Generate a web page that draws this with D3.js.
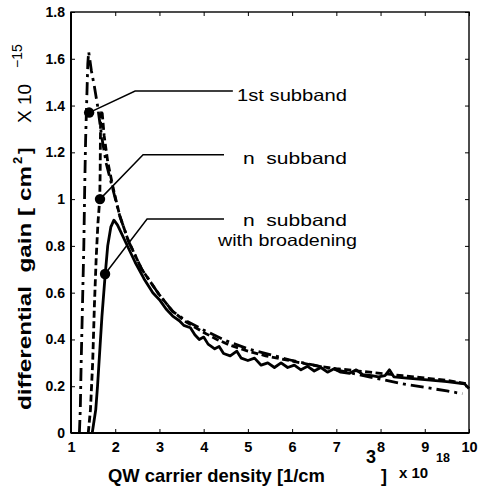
<!DOCTYPE html>
<html><head><meta charset="utf-8">
<script src="https://cdn.jsdelivr.net/npm/d3@7"></script>
<style>
html,body{margin:0;padding:0;background:#fff;}
svg{display:block;}
text{font-family:"Liberation Sans",Arial,Helvetica,sans-serif;fill:#000;white-space:pre;}
</style></head>
<body>
<script>
// ---- data (x in 1e18 /cm^3, y in 1e-15 cm^2) ----
const firstSubband = [
 [1.19,0],[1.21,0.1],[1.23,0.3],[1.26,0.55],[1.29,0.8],[1.31,1.05],[1.33,1.25],[1.36,1.45],[1.38,1.58],[1.40,1.63],
 [1.46,1.55],[1.53,1.48],[1.6,1.40],[1.7,1.26],[1.8,1.15],[1.95,1.04],[2.1,0.93],[2.3,0.82],[2.6,0.70],[3.0,0.59],
 [3.3,0.52],[3.6,0.48],[4.0,0.44],[4.5,0.395],[5.0,0.36],[5.5,0.335],[6.0,0.31],[6.5,0.29],[7.0,0.27],[7.5,0.25],
 [8.0,0.23],[8.5,0.21],[9.0,0.195],[9.5,0.18],[9.85,0.168]
];
const nSubband = [
 [1.39,0],[1.44,0.1],[1.49,0.3],[1.53,0.55],[1.57,0.75],[1.61,0.9],[1.65,1.0],[1.66,1.12],[1.665,1.25],[1.67,1.35],
 [1.70,1.38],[1.75,1.27],[1.83,1.16],[1.95,1.05],[2.1,0.93],[2.3,0.82],[2.6,0.70],[3.0,0.59],[3.3,0.52],[3.6,0.475],
 [4.0,0.43],[4.3,0.40],[4.6,0.375],[5.0,0.35],[5.4,0.33],[5.8,0.315],[6.2,0.30],[6.6,0.285],[7.0,0.275],[7.5,0.265],
 [8.0,0.255],[8.5,0.245],[9.0,0.235],[9.5,0.225],[9.95,0.21]
];
const broadened = [
 [1.48,0],[1.52,0.05],[1.56,0.1],[1.6,0.2],[1.65,0.35],[1.7,0.5],[1.77,0.67],[1.83,0.8],[1.9,0.88],[1.97,0.91],
 [2.05,0.89],[2.15,0.85],[2.3,0.79],[2.45,0.73],[2.65,0.66],[2.85,0.60],[3.0,0.57],[3.15,0.53],[3.3,0.50],[3.45,0.48],
 [3.55,0.46],[3.7,0.45],[3.8,0.42],[3.9,0.40],[4.0,0.41],[4.1,0.38],[4.25,0.36],[4.35,0.37],[4.45,0.34],[4.6,0.33],
 [4.75,0.35],[4.85,0.32],[5.0,0.31],[5.15,0.32],[5.3,0.29],[5.45,0.30],[5.6,0.28],[5.75,0.30],[5.9,0.28],[6.05,0.29],
 [6.2,0.27],[6.35,0.285],[6.5,0.265],[6.65,0.28],[6.8,0.26],[6.95,0.275],[7.1,0.26],[7.3,0.255],[7.45,0.27],[7.6,0.25],
 [7.8,0.245],[7.95,0.24],[8.1,0.245],[8.2,0.27],[8.3,0.24],[8.6,0.235],[9.0,0.228],[9.5,0.22],[9.9,0.21],[10,0.19]
];
const xTicks = [1,2,3,4,5,6,7,8,9,10];
const xTickLabels = ["1","2","3","4","5","6","7","8","9","10"];
const yTicks = [0,0.2,0.4,0.6,0.8,1,1.2,1.4,1.6,1.8];
const yTickLabels = ["0","0.2","0.4","0.6","0.8","1","1.2","1.4","1.6","1.8"];
// annotations: dot (data), elbow (data), end x (data)
const annLabels = [["1st subband"],["n  subband"],["n  subband","with broadening"]];
const annDots = [[1.41,1.37],[1.656,1.0],[1.77,0.68]];
const annElbows = [[2.45,1.462],[2.63,1.19],[2.72,0.915]];
const annEnds = [4.66,4.46,4.46];

// ---- layout ----
const W=478,H=489;
const L=71,R=469,T=12,B=433;
const svg=d3.select("body").append("svg").attr("width",W).attr("height",H);
const x=d3.scaleLinear().domain([1,10]).range([L,R]);
const y=d3.scaleLinear().domain([0,1.8]).range([B,T]);

// axes (inward ticks)
const ax=svg.append("g").attr("transform",`translate(0,${B})`)
  .call(d3.axisBottom(x).tickValues(xTicks).tickSize(-4).tickPadding(9).tickFormat((d,i)=>xTickLabels[i]));
const axT=svg.append("g").attr("transform",`translate(0,${T})`)
  .call(d3.axisTop(x).tickValues(xTicks).tickSize(-4).tickFormat(""));
const ay=svg.append("g").attr("transform",`translate(${L},0)`)
  .call(d3.axisLeft(y).tickValues(yTicks).tickSize(-4).tickPadding(8).tickFormat((d,i)=>yTickLabels[i]));
const ayR=svg.append("g").attr("transform",`translate(${R},0)`)
  .call(d3.axisRight(y).tickValues(yTicks).tickSize(-4).tickFormat(""));
[ax,axT,ay,ayR].forEach(g=>{g.select(".domain").remove();g.selectAll(".tick line").attr("stroke","#000").attr("stroke-width",1);});
ax.selectAll(".tick text").attr("font-size",14.5).attr("font-weight","bold").attr("font-family","Liberation Sans, Arial, sans-serif").attr("dy","0.72em");
ay.selectAll(".tick text").attr("font-size",14).attr("font-weight","bold").attr("font-family","Liberation Sans, Arial, sans-serif").attr("dx","2");

// frame
svg.append("rect").attr("x",L).attr("y",T).attr("width",R-L).attr("height",B-T)
  .attr("fill","none").attr("stroke","#000").attr("stroke-width",1.4);
svg.append("line").attr("x1",L).attr("x2",R).attr("y1",B).attr("y2",B).attr("stroke","#000").attr("stroke-width",2.2);
svg.append("line").attr("x1",L).attr("x2",L).attr("y1",T).attr("y2",B).attr("stroke","#000").attr("stroke-width",2);

// curves
const line=d3.line().x(d=>x(d[0])).y(d=>y(d[1])).curve(d3.curveLinear);
const g=svg.append("g");
g.append("path").datum(firstSubband).attr("d",line).attr("fill","none").attr("stroke","#000")
  .attr("stroke-width",2.8).attr("stroke-dasharray","13,5,3,5");
g.append("path").datum(nSubband).attr("d",line).attr("fill","none").attr("stroke","#000")
  .attr("stroke-width",2.8).attr("stroke-dasharray","7,3.5");
g.append("path").datum(broadened).attr("d",line).attr("fill","none").attr("stroke","#000")
  .attr("stroke-width",2.8).attr("stroke-linejoin","round");

// annotations
annDots.forEach((p,i)=>{
  const e=annElbows[i];
  svg.append("polyline").attr("points",[[x(p[0]),y(p[1])],[x(e[0]),y(e[1])],[x(annEnds[i]),y(e[1])]].map(q=>q.join(",")).join(" "))
    .attr("fill","none").attr("stroke","#000").attr("stroke-width",1.5);
  svg.append("circle").attr("cx",x(p[0])).attr("cy",y(p[1])).attr("r",5.2).attr("fill","#000");
});
const annText=[[{t:"1st subband",x:237,y:101,w:110}],[{t:"n  subband",x:243,y:164,w:104}],
  [{t:"n  subband",x:243,y:226,w:104},{t:"with broadening",x:218,y:246,w:139}]];
annLabels.forEach((arr,i)=>arr.forEach((s,j)=>{
  const a=annText[i][j];
  svg.append("text").attr("x",a.x).attr("y",a.y).attr("font-size",16.5).text(s)
    .attr("textLength",a.w).attr("lengthAdjust","spacingAndGlyphs");
}));

// y axis label (rotated)
const yl=svg.append("g").attr("transform","translate(31,0) rotate(-90)");
yl.append("text").attr("x",-410).attr("y",0).attr("font-size",19).attr("font-weight","bold")
  .attr("textLength",244).attr("lengthAdjust","spacingAndGlyphs").text("differential  gain [ cm");
yl.append("text").attr("x",-164).attr("y",-9).attr("font-size",13).attr("font-weight","bold").text("2");
yl.append("text").attr("x",-154).attr("y",0).attr("font-size",19).attr("font-weight","bold").text("]");
yl.append("text").attr("x",-123).attr("y",0).attr("font-size",19).text("X 10");
yl.append("text").attr("x",-68).attr("y",-9).attr("font-size",14).text("\u221215");

// x axis label
svg.append("text").attr("x",108).attr("y",482).attr("font-size",18.5).attr("font-weight","bold")
  .attr("textLength",217).attr("lengthAdjust","spacingAndGlyphs").text("QW carrier density [1/cm");
svg.append("text").attr("x",366).attr("y",463).attr("font-size",18).attr("font-weight","bold").text("3");
svg.append("text").attr("x",381).attr("y",482).attr("font-size",18).attr("font-weight","bold").text("]");
svg.append("text").attr("x",399).attr("y",478).attr("font-size",15).attr("font-weight","bold").text("x 10");
svg.append("text").attr("x",436).attr("y",462).attr("font-size",12.5).attr("font-weight","bold").text("18");
</script>
</body></html>
